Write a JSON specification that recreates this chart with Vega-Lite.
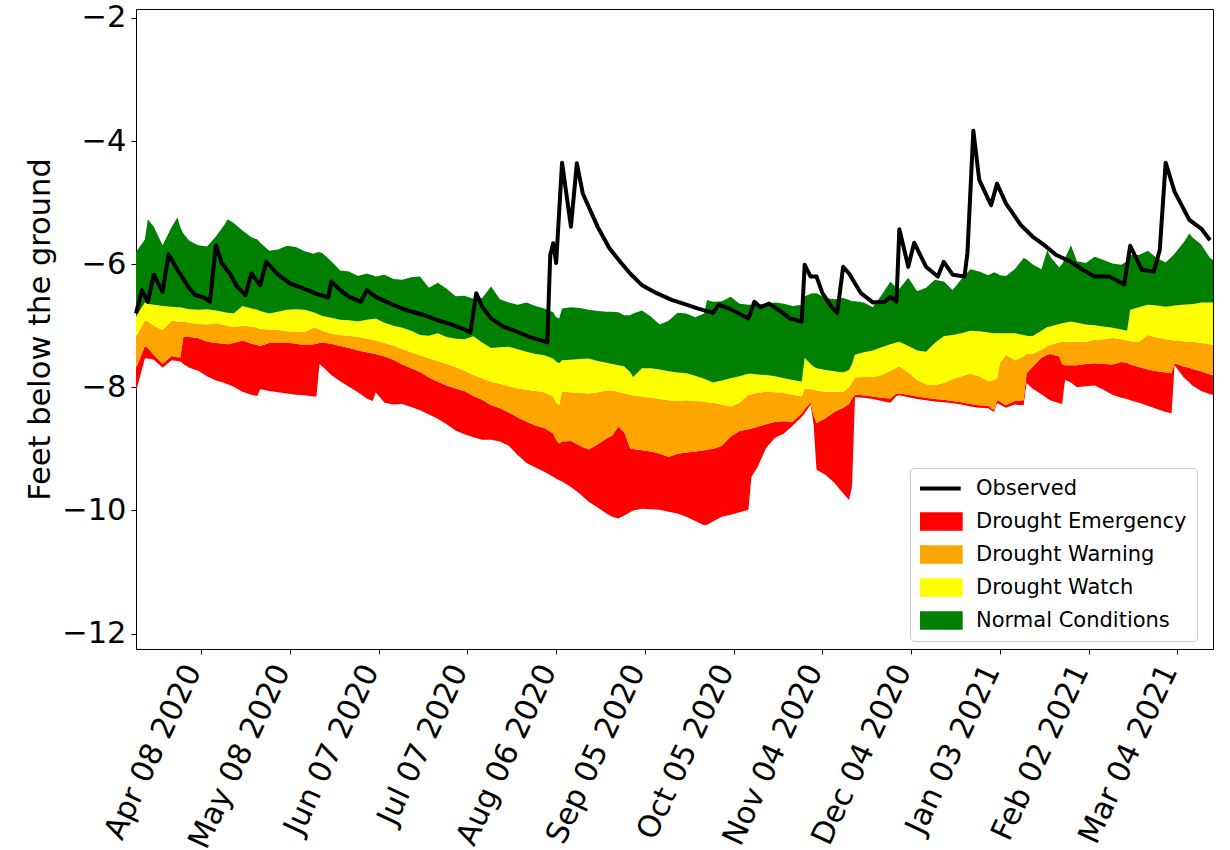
{
  "$schema": "https://vega.github.io/schema/vega-lite/v6.json",
  "autosize": "none",
  "width": 1077,
  "height": 640,
  "padding": {"left": 136, "top": 9, "right": 17, "bottom": 201},
  "background": "white",
  "datasets": {
    "bands": [
      {"date":"2020-03-17","emerg_lo":-8.07,"emerg_hi":-7.69,"warn_hi":-7.18,"watch_hi":-6.85,"normal_hi":-5.80},
      {"date":"2020-03-20","emerg_lo":-7.53,"emerg_hi":-7.33,"warn_hi":-6.91,"watch_hi":-6.62,"normal_hi":-5.60},
      {"date":"2020-03-21","emerg_lo":-7.53,"emerg_hi":-7.36,"warn_hi":-6.93,"watch_hi":-6.64,"normal_hi":-5.27},
      {"date":"2020-03-23","emerg_lo":-7.55,"emerg_hi":-7.47,"warn_hi":-7.00,"watch_hi":-6.66,"normal_hi":-5.39},
      {"date":"2020-03-26","emerg_lo":-7.68,"emerg_hi":-7.62,"warn_hi":-7.07,"watch_hi":-6.68,"normal_hi":-5.69},
      {"date":"2020-03-29","emerg_lo":-7.56,"emerg_hi":-7.49,"warn_hi":-6.92,"watch_hi":-6.69,"normal_hi":-5.40},
      {"date":"2020-03-31","emerg_lo":-7.57,"emerg_hi":-7.51,"warn_hi":-6.93,"watch_hi":-6.70,"normal_hi":-5.24},
      {"date":"2020-04-01","emerg_lo":-7.58,"emerg_hi":-7.51,"warn_hi":-6.93,"watch_hi":-6.70,"normal_hi":-5.40},
      {"date":"2020-04-02","emerg_lo":-7.62,"emerg_hi":-7.18,"warn_hi":-6.93,"watch_hi":-6.71,"normal_hi":-5.50},
      {"date":"2020-04-04","emerg_lo":-7.68,"emerg_hi":-7.18,"warn_hi":-6.95,"watch_hi":-6.73,"normal_hi":-5.62},
      {"date":"2020-04-07","emerg_lo":-7.73,"emerg_hi":-7.20,"warn_hi":-6.97,"watch_hi":-6.74,"normal_hi":-5.69},
      {"date":"2020-04-10","emerg_lo":-7.82,"emerg_hi":-7.26,"warn_hi":-6.98,"watch_hi":-6.73,"normal_hi":-5.71},
      {"date":"2020-04-13","emerg_lo":-7.89,"emerg_hi":-7.28,"warn_hi":-6.96,"watch_hi":-6.75,"normal_hi":-5.55},
      {"date":"2020-04-16","emerg_lo":-7.93,"emerg_hi":-7.29,"warn_hi":-6.99,"watch_hi":-6.78,"normal_hi":-5.35},
      {"date":"2020-04-17","emerg_lo":-7.95,"emerg_hi":-7.30,"warn_hi":-7.00,"watch_hi":-6.79,"normal_hi":-5.27},
      {"date":"2020-04-19","emerg_lo":-7.99,"emerg_hi":-7.28,"warn_hi":-7.02,"watch_hi":-6.80,"normal_hi":-5.33},
      {"date":"2020-04-22","emerg_lo":-8.07,"emerg_hi":-7.24,"warn_hi":-7.00,"watch_hi":-6.68,"normal_hi":-5.45},
      {"date":"2020-04-25","emerg_lo":-8.12,"emerg_hi":-7.29,"warn_hi":-7.01,"watch_hi":-6.72,"normal_hi":-5.56},
      {"date":"2020-04-27","emerg_lo":-8.14,"emerg_hi":-7.31,"warn_hi":-7.03,"watch_hi":-6.74,"normal_hi":-5.60},
      {"date":"2020-04-28","emerg_lo":-8.03,"emerg_hi":-7.33,"warn_hi":-7.05,"watch_hi":-6.76,"normal_hi":-5.65},
      {"date":"2020-05-01","emerg_lo":-8.06,"emerg_hi":-7.28,"warn_hi":-7.06,"watch_hi":-6.80,"normal_hi":-5.78},
      {"date":"2020-05-04","emerg_lo":-8.08,"emerg_hi":-7.28,"warn_hi":-7.07,"watch_hi":-6.77,"normal_hi":-5.76},
      {"date":"2020-05-07","emerg_lo":-8.10,"emerg_hi":-7.27,"warn_hi":-7.09,"watch_hi":-6.74,"normal_hi":-5.70},
      {"date":"2020-05-10","emerg_lo":-8.12,"emerg_hi":-7.29,"warn_hi":-7.10,"watch_hi":-6.73,"normal_hi":-5.72},
      {"date":"2020-05-13","emerg_lo":-8.13,"emerg_hi":-7.31,"warn_hi":-7.10,"watch_hi":-6.74,"normal_hi":-5.79},
      {"date":"2020-05-16","emerg_lo":-8.15,"emerg_hi":-7.30,"warn_hi":-7.03,"watch_hi":-6.78,"normal_hi":-5.83},
      {"date":"2020-05-17","emerg_lo":-8.15,"emerg_hi":-7.29,"warn_hi":-7.04,"watch_hi":-6.80,"normal_hi":-5.81},
      {"date":"2020-05-18","emerg_lo":-7.62,"emerg_hi":-7.28,"warn_hi":-7.06,"watch_hi":-6.82,"normal_hi":-5.80},
      {"date":"2020-05-19","emerg_lo":-7.66,"emerg_hi":-7.27,"warn_hi":-7.08,"watch_hi":-6.84,"normal_hi":-5.82},
      {"date":"2020-05-22","emerg_lo":-7.80,"emerg_hi":-7.29,"warn_hi":-7.13,"watch_hi":-6.87,"normal_hi":-5.95},
      {"date":"2020-05-25","emerg_lo":-7.90,"emerg_hi":-7.33,"warn_hi":-7.15,"watch_hi":-6.90,"normal_hi":-6.10},
      {"date":"2020-05-28","emerg_lo":-7.99,"emerg_hi":-7.36,"warn_hi":-7.16,"watch_hi":-6.91,"normal_hi":-6.12},
      {"date":"2020-05-31","emerg_lo":-8.08,"emerg_hi":-7.40,"warn_hi":-7.18,"watch_hi":-6.93,"normal_hi":-6.19},
      {"date":"2020-06-03","emerg_lo":-8.18,"emerg_hi":-7.43,"warn_hi":-7.21,"watch_hi":-6.90,"normal_hi":-6.15},
      {"date":"2020-06-05","emerg_lo":-8.22,"emerg_hi":-7.45,"warn_hi":-7.23,"watch_hi":-6.89,"normal_hi":-6.18},
      {"date":"2020-06-06","emerg_lo":-8.08,"emerg_hi":-7.46,"warn_hi":-7.24,"watch_hi":-6.88,"normal_hi":-6.20},
      {"date":"2020-06-09","emerg_lo":-8.25,"emerg_hi":-7.50,"warn_hi":-7.28,"watch_hi":-6.95,"normal_hi":-6.17},
      {"date":"2020-06-12","emerg_lo":-8.28,"emerg_hi":-7.55,"warn_hi":-7.32,"watch_hi":-7.00,"normal_hi":-6.24},
      {"date":"2020-06-15","emerg_lo":-8.27,"emerg_hi":-7.63,"warn_hi":-7.38,"watch_hi":-7.03,"normal_hi":-6.25},
      {"date":"2020-06-18","emerg_lo":-8.32,"emerg_hi":-7.69,"warn_hi":-7.43,"watch_hi":-7.08,"normal_hi":-6.21},
      {"date":"2020-06-21","emerg_lo":-8.37,"emerg_hi":-7.75,"warn_hi":-7.48,"watch_hi":-7.15,"normal_hi":-6.20},
      {"date":"2020-06-24","emerg_lo":-8.44,"emerg_hi":-7.84,"warn_hi":-7.53,"watch_hi":-7.16,"normal_hi":-6.38},
      {"date":"2020-06-27","emerg_lo":-8.51,"emerg_hi":-7.91,"warn_hi":-7.57,"watch_hi":-7.12,"normal_hi":-6.30},
      {"date":"2020-06-30","emerg_lo":-8.60,"emerg_hi":-7.97,"warn_hi":-7.62,"watch_hi":-7.18,"normal_hi":-6.40},
      {"date":"2020-07-03","emerg_lo":-8.70,"emerg_hi":-8.02,"warn_hi":-7.67,"watch_hi":-7.21,"normal_hi":-6.52},
      {"date":"2020-07-06","emerg_lo":-8.76,"emerg_hi":-8.06,"warn_hi":-7.73,"watch_hi":-7.22,"normal_hi":-6.51},
      {"date":"2020-07-09","emerg_lo":-8.81,"emerg_hi":-8.14,"warn_hi":-7.80,"watch_hi":-7.17,"normal_hi":-6.56},
      {"date":"2020-07-12","emerg_lo":-8.85,"emerg_hi":-8.20,"warn_hi":-7.85,"watch_hi":-7.27,"normal_hi":-6.55},
      {"date":"2020-07-15","emerg_lo":-8.85,"emerg_hi":-8.29,"warn_hi":-7.91,"watch_hi":-7.36,"normal_hi":-6.36},
      {"date":"2020-07-18","emerg_lo":-8.88,"emerg_hi":-8.34,"warn_hi":-7.94,"watch_hi":-7.35,"normal_hi":-6.57},
      {"date":"2020-07-21","emerg_lo":-8.95,"emerg_hi":-8.41,"warn_hi":-7.98,"watch_hi":-7.34,"normal_hi":-6.62},
      {"date":"2020-07-24","emerg_lo":-9.10,"emerg_hi":-8.49,"warn_hi":-8.02,"watch_hi":-7.38,"normal_hi":-6.66},
      {"date":"2020-07-27","emerg_lo":-9.23,"emerg_hi":-8.56,"warn_hi":-8.04,"watch_hi":-7.42,"normal_hi":-6.62},
      {"date":"2020-07-30","emerg_lo":-9.30,"emerg_hi":-8.62,"warn_hi":-8.06,"watch_hi":-7.46,"normal_hi":-6.68},
      {"date":"2020-08-02","emerg_lo":-9.37,"emerg_hi":-8.66,"warn_hi":-8.08,"watch_hi":-7.48,"normal_hi":-6.72},
      {"date":"2020-08-05","emerg_lo":-9.45,"emerg_hi":-8.75,"warn_hi":-8.15,"watch_hi":-7.53,"normal_hi":-6.78},
      {"date":"2020-08-06","emerg_lo":-9.48,"emerg_hi":-8.85,"warn_hi":-8.25,"watch_hi":-7.58,"normal_hi":-6.86},
      {"date":"2020-08-07","emerg_lo":-9.51,"emerg_hi":-8.91,"warn_hi":-8.29,"watch_hi":-7.61,"normal_hi":-6.88},
      {"date":"2020-08-08","emerg_lo":-9.53,"emerg_hi":-8.88,"warn_hi":-8.07,"watch_hi":-7.56,"normal_hi":-6.72},
      {"date":"2020-08-11","emerg_lo":-9.62,"emerg_hi":-8.87,"warn_hi":-8.08,"watch_hi":-7.55,"normal_hi":-6.70},
      {"date":"2020-08-14","emerg_lo":-9.73,"emerg_hi":-8.95,"warn_hi":-8.09,"watch_hi":-7.54,"normal_hi":-6.71},
      {"date":"2020-08-17","emerg_lo":-9.86,"emerg_hi":-9.01,"warn_hi":-8.10,"watch_hi":-7.53,"normal_hi":-6.74},
      {"date":"2020-08-20","emerg_lo":-9.95,"emerg_hi":-8.93,"warn_hi":-8.08,"watch_hi":-7.57,"normal_hi":-6.76},
      {"date":"2020-08-23","emerg_lo":-10.05,"emerg_hi":-8.83,"warn_hi":-8.05,"watch_hi":-7.60,"normal_hi":-6.77},
      {"date":"2020-08-25","emerg_lo":-10.10,"emerg_hi":-8.78,"warn_hi":-8.05,"watch_hi":-7.62,"normal_hi":-6.77},
      {"date":"2020-08-27","emerg_lo":-10.13,"emerg_hi":-8.64,"warn_hi":-8.07,"watch_hi":-7.64,"normal_hi":-6.78},
      {"date":"2020-08-29","emerg_lo":-10.08,"emerg_hi":-8.73,"warn_hi":-8.10,"watch_hi":-7.66,"normal_hi":-6.83},
      {"date":"2020-08-31","emerg_lo":-10.03,"emerg_hi":-8.99,"warn_hi":-8.12,"watch_hi":-7.75,"normal_hi":-6.83},
      {"date":"2020-09-01","emerg_lo":-10.00,"emerg_hi":-9.00,"warn_hi":-8.13,"watch_hi":-7.83,"normal_hi":-6.80},
      {"date":"2020-09-04","emerg_lo":-9.97,"emerg_hi":-9.02,"warn_hi":-8.15,"watch_hi":-7.69,"normal_hi":-6.75},
      {"date":"2020-09-07","emerg_lo":-9.98,"emerg_hi":-9.04,"warn_hi":-8.17,"watch_hi":-7.69,"normal_hi":-6.85},
      {"date":"2020-09-10","emerg_lo":-9.99,"emerg_hi":-9.08,"warn_hi":-8.19,"watch_hi":-7.71,"normal_hi":-6.98},
      {"date":"2020-09-13","emerg_lo":-10.02,"emerg_hi":-9.13,"warn_hi":-8.21,"watch_hi":-7.74,"normal_hi":-6.92},
      {"date":"2020-09-16","emerg_lo":-10.05,"emerg_hi":-9.08,"warn_hi":-8.22,"watch_hi":-7.76,"normal_hi":-6.79},
      {"date":"2020-09-19","emerg_lo":-10.10,"emerg_hi":-9.06,"warn_hi":-8.21,"watch_hi":-7.77,"normal_hi":-6.80},
      {"date":"2020-09-22","emerg_lo":-10.17,"emerg_hi":-9.04,"warn_hi":-8.22,"watch_hi":-7.81,"normal_hi":-6.86},
      {"date":"2020-09-25","emerg_lo":-10.24,"emerg_hi":-9.02,"warn_hi":-8.23,"watch_hi":-7.86,"normal_hi":-6.80},
      {"date":"2020-09-26","emerg_lo":-10.23,"emerg_hi":-9.01,"warn_hi":-8.24,"watch_hi":-7.88,"normal_hi":-6.58},
      {"date":"2020-09-28","emerg_lo":-10.18,"emerg_hi":-9.00,"warn_hi":-8.25,"watch_hi":-7.92,"normal_hi":-6.61},
      {"date":"2020-10-01","emerg_lo":-10.10,"emerg_hi":-8.95,"warn_hi":-8.28,"watch_hi":-7.89,"normal_hi":-6.60},
      {"date":"2020-10-04","emerg_lo":-10.07,"emerg_hi":-8.80,"warn_hi":-8.31,"watch_hi":-7.85,"normal_hi":-6.53},
      {"date":"2020-10-07","emerg_lo":-10.03,"emerg_hi":-8.71,"warn_hi":-8.25,"watch_hi":-7.82,"normal_hi":-6.64},
      {"date":"2020-10-10","emerg_lo":-9.99,"emerg_hi":-8.68,"warn_hi":-8.12,"watch_hi":-7.78,"normal_hi":-6.66},
      {"date":"2020-10-11","emerg_lo":-9.45,"emerg_hi":-8.67,"warn_hi":-8.11,"watch_hi":-7.78,"normal_hi":-6.66},
      {"date":"2020-10-13","emerg_lo":-9.30,"emerg_hi":-8.64,"warn_hi":-8.09,"watch_hi":-7.79,"normal_hi":-6.65},
      {"date":"2020-10-16","emerg_lo":-8.98,"emerg_hi":-8.60,"warn_hi":-8.07,"watch_hi":-7.80,"normal_hi":-6.64},
      {"date":"2020-10-19","emerg_lo":-8.82,"emerg_hi":-8.56,"warn_hi":-8.08,"watch_hi":-7.82,"normal_hi":-6.62},
      {"date":"2020-10-22","emerg_lo":-8.75,"emerg_hi":-8.55,"warn_hi":-8.09,"watch_hi":-7.85,"normal_hi":-6.64},
      {"date":"2020-10-25","emerg_lo":-8.62,"emerg_hi":-8.56,"warn_hi":-8.12,"watch_hi":-7.88,"normal_hi":-6.68},
      {"date":"2020-10-28","emerg_lo":-8.48,"emerg_hi":-8.42,"warn_hi":-8.15,"watch_hi":-7.91,"normal_hi":-6.66},
      {"date":"2020-10-29","emerg_lo":-8.42,"emerg_hi":-8.35,"warn_hi":-8.02,"watch_hi":-7.52,"normal_hi":-6.52},
      {"date":"2020-10-31","emerg_lo":-8.28,"emerg_hi":-8.25,"warn_hi":-8.03,"watch_hi":-7.62,"normal_hi":-6.48},
      {"date":"2020-11-01","emerg_lo":-8.60,"emerg_hi":-8.45,"warn_hi":-8.04,"watch_hi":-7.66,"normal_hi":-6.47},
      {"date":"2020-11-02","emerg_lo":-9.34,"emerg_hi":-8.58,"warn_hi":-8.05,"watch_hi":-7.69,"normal_hi":-6.47},
      {"date":"2020-11-05","emerg_lo":-9.42,"emerg_hi":-8.50,"warn_hi":-8.07,"watch_hi":-7.72,"normal_hi":-6.55},
      {"date":"2020-11-08","emerg_lo":-9.55,"emerg_hi":-8.40,"warn_hi":-8.07,"watch_hi":-7.74,"normal_hi":-6.57},
      {"date":"2020-11-11","emerg_lo":-9.72,"emerg_hi":-8.33,"warn_hi":-8.07,"watch_hi":-7.76,"normal_hi":-6.55},
      {"date":"2020-11-13","emerg_lo":-9.83,"emerg_hi":-8.27,"warn_hi":-8.00,"watch_hi":-7.72,"normal_hi":-6.58},
      {"date":"2020-11-14","emerg_lo":-9.61,"emerg_hi":-8.18,"warn_hi":-7.92,"watch_hi":-7.62,"normal_hi":-6.60},
      {"date":"2020-11-15","emerg_lo":-8.16,"emerg_hi":-8.12,"warn_hi":-7.84,"watch_hi":-7.47,"normal_hi":-6.60},
      {"date":"2020-11-18","emerg_lo":-8.17,"emerg_hi":-8.13,"warn_hi":-7.83,"watch_hi":-7.43,"normal_hi":-6.62},
      {"date":"2020-11-21","emerg_lo":-8.19,"emerg_hi":-8.15,"warn_hi":-7.83,"watch_hi":-7.40,"normal_hi":-6.70},
      {"date":"2020-11-24","emerg_lo":-8.22,"emerg_hi":-8.17,"warn_hi":-7.80,"watch_hi":-7.35,"normal_hi":-6.50},
      {"date":"2020-11-27","emerg_lo":-8.25,"emerg_hi":-8.18,"warn_hi":-7.73,"watch_hi":-7.30,"normal_hi":-6.28},
      {"date":"2020-11-29","emerg_lo":-8.14,"emerg_hi":-8.10,"warn_hi":-7.68,"watch_hi":-7.27,"normal_hi":-6.38},
      {"date":"2020-11-30","emerg_lo":-8.13,"emerg_hi":-8.10,"warn_hi":-7.66,"watch_hi":-7.26,"normal_hi":-6.40},
      {"date":"2020-12-03","emerg_lo":-8.16,"emerg_hi":-8.12,"warn_hi":-7.76,"watch_hi":-7.33,"normal_hi":-6.22},
      {"date":"2020-12-06","emerg_lo":-8.19,"emerg_hi":-8.15,"warn_hi":-7.88,"watch_hi":-7.40,"normal_hi":-6.44},
      {"date":"2020-12-09","emerg_lo":-8.21,"emerg_hi":-8.17,"warn_hi":-7.95,"watch_hi":-7.42,"normal_hi":-6.38},
      {"date":"2020-12-12","emerg_lo":-8.23,"emerg_hi":-8.19,"warn_hi":-7.96,"watch_hi":-7.28,"normal_hi":-6.25},
      {"date":"2020-12-15","emerg_lo":-8.24,"emerg_hi":-8.20,"warn_hi":-7.93,"watch_hi":-7.17,"normal_hi":-6.28},
      {"date":"2020-12-18","emerg_lo":-8.26,"emerg_hi":-8.22,"warn_hi":-7.87,"watch_hi":-7.15,"normal_hi":-6.42},
      {"date":"2020-12-21","emerg_lo":-8.28,"emerg_hi":-8.24,"warn_hi":-7.82,"watch_hi":-7.12,"normal_hi":-6.24},
      {"date":"2020-12-24","emerg_lo":-8.31,"emerg_hi":-8.27,"warn_hi":-7.78,"watch_hi":-7.08,"normal_hi":-6.08},
      {"date":"2020-12-27","emerg_lo":-8.33,"emerg_hi":-8.29,"warn_hi":-7.82,"watch_hi":-7.09,"normal_hi":-6.12},
      {"date":"2020-12-30","emerg_lo":-8.34,"emerg_hi":-8.30,"warn_hi":-7.90,"watch_hi":-7.11,"normal_hi":-6.18},
      {"date":"2021-01-01","emerg_lo":-8.40,"emerg_hi":-8.37,"warn_hi":-7.88,"watch_hi":-7.12,"normal_hi":-6.13},
      {"date":"2021-01-02","emerg_lo":-8.26,"emerg_hi":-8.21,"warn_hi":-7.85,"watch_hi":-7.12,"normal_hi":-6.15},
      {"date":"2021-01-03","emerg_lo":-8.28,"emerg_hi":-8.23,"warn_hi":-7.60,"watch_hi":-7.12,"normal_hi":-6.18},
      {"date":"2021-01-05","emerg_lo":-8.33,"emerg_hi":-8.29,"warn_hi":-7.47,"watch_hi":-7.12,"normal_hi":-6.19},
      {"date":"2021-01-08","emerg_lo":-8.28,"emerg_hi":-8.22,"warn_hi":-7.56,"watch_hi":-7.12,"normal_hi":-6.08},
      {"date":"2021-01-11","emerg_lo":-8.29,"emerg_hi":-8.21,"warn_hi":-7.50,"watch_hi":-7.15,"normal_hi":-5.90},
      {"date":"2021-01-12","emerg_lo":-7.93,"emerg_hi":-7.77,"warn_hi":-7.45,"watch_hi":-7.16,"normal_hi":-5.92},
      {"date":"2021-01-14","emerg_lo":-8.02,"emerg_hi":-7.67,"warn_hi":-7.46,"watch_hi":-7.17,"normal_hi":-6.00},
      {"date":"2021-01-17","emerg_lo":-8.11,"emerg_hi":-7.52,"warn_hi":-7.39,"watch_hi":-7.08,"normal_hi":-6.08},
      {"date":"2021-01-19","emerg_lo":-8.18,"emerg_hi":-7.47,"warn_hi":-7.33,"watch_hi":-7.02,"normal_hi":-5.77},
      {"date":"2021-01-20","emerg_lo":-8.21,"emerg_hi":-7.46,"warn_hi":-7.31,"watch_hi":-7.01,"normal_hi":-5.88},
      {"date":"2021-01-23","emerg_lo":-8.26,"emerg_hi":-7.50,"warn_hi":-7.27,"watch_hi":-6.97,"normal_hi":-6.05},
      {"date":"2021-01-24","emerg_lo":-8.27,"emerg_hi":-7.62,"warn_hi":-7.26,"watch_hi":-6.96,"normal_hi":-6.00},
      {"date":"2021-01-25","emerg_lo":-7.88,"emerg_hi":-7.64,"warn_hi":-7.26,"watch_hi":-6.95,"normal_hi":-5.90},
      {"date":"2021-01-27","emerg_lo":-7.92,"emerg_hi":-7.64,"warn_hi":-7.26,"watch_hi":-6.93,"normal_hi":-5.69},
      {"date":"2021-01-29","emerg_lo":-8.00,"emerg_hi":-7.64,"warn_hi":-7.26,"watch_hi":-6.95,"normal_hi":-5.95},
      {"date":"2021-02-01","emerg_lo":-7.98,"emerg_hi":-7.62,"warn_hi":-7.26,"watch_hi":-6.98,"normal_hi":-5.98},
      {"date":"2021-02-04","emerg_lo":-7.97,"emerg_hi":-7.61,"warn_hi":-7.23,"watch_hi":-6.99,"normal_hi":-5.88},
      {"date":"2021-02-07","emerg_lo":-8.04,"emerg_hi":-7.62,"warn_hi":-7.22,"watch_hi":-7.01,"normal_hi":-5.93},
      {"date":"2021-02-10","emerg_lo":-8.12,"emerg_hi":-7.63,"warn_hi":-7.20,"watch_hi":-7.03,"normal_hi":-5.99},
      {"date":"2021-02-13","emerg_lo":-8.17,"emerg_hi":-7.59,"warn_hi":-7.22,"watch_hi":-7.06,"normal_hi":-6.01},
      {"date":"2021-02-15","emerg_lo":-8.19,"emerg_hi":-7.60,"warn_hi":-7.24,"watch_hi":-7.08,"normal_hi":-5.95},
      {"date":"2021-02-16","emerg_lo":-8.21,"emerg_hi":-7.63,"warn_hi":-7.25,"watch_hi":-6.74,"normal_hi":-5.85},
      {"date":"2021-02-19","emerg_lo":-8.25,"emerg_hi":-7.67,"warn_hi":-7.26,"watch_hi":-6.70,"normal_hi":-5.85},
      {"date":"2021-02-22","emerg_lo":-8.30,"emerg_hi":-7.71,"warn_hi":-7.15,"watch_hi":-6.66,"normal_hi":-5.78},
      {"date":"2021-02-25","emerg_lo":-8.35,"emerg_hi":-7.74,"warn_hi":-7.19,"watch_hi":-6.67,"normal_hi":-5.90},
      {"date":"2021-02-28","emerg_lo":-8.40,"emerg_hi":-7.76,"warn_hi":-7.22,"watch_hi":-6.69,"normal_hi":-5.97},
      {"date":"2021-03-02","emerg_lo":-8.42,"emerg_hi":-7.77,"warn_hi":-7.23,"watch_hi":-6.68,"normal_hi":-5.88},
      {"date":"2021-03-03","emerg_lo":-7.64,"emerg_hi":-7.61,"warn_hi":-7.24,"watch_hi":-6.67,"normal_hi":-5.83},
      {"date":"2021-03-06","emerg_lo":-7.83,"emerg_hi":-7.66,"warn_hi":-7.25,"watch_hi":-6.66,"normal_hi":-5.65},
      {"date":"2021-03-08","emerg_lo":-7.92,"emerg_hi":-7.68,"warn_hi":-7.26,"watch_hi":-6.65,"normal_hi":-5.50},
      {"date":"2021-03-09","emerg_lo":-7.97,"emerg_hi":-7.70,"warn_hi":-7.26,"watch_hi":-6.65,"normal_hi":-5.56},
      {"date":"2021-03-12","emerg_lo":-8.06,"emerg_hi":-7.74,"warn_hi":-7.28,"watch_hi":-6.62,"normal_hi":-5.68},
      {"date":"2021-03-15","emerg_lo":-8.11,"emerg_hi":-7.79,"warn_hi":-7.30,"watch_hi":-6.62,"normal_hi":-5.90},
      {"date":"2021-03-16","emerg_lo":-8.12,"emerg_hi":-7.80,"warn_hi":-7.31,"watch_hi":-6.62,"normal_hi":-5.93}
    ],
    "observed": [
      {"date":"2020-03-17","level":-6.80},{"date":"2020-03-19","level":-6.42},{"date":"2020-03-21","level":-6.61},
      {"date":"2020-03-23","level":-6.17},{"date":"2020-03-26","level":-6.45},{"date":"2020-03-28","level":-5.84},
      {"date":"2020-03-31","level":-6.09},{"date":"2020-04-04","level":-6.39},{"date":"2020-04-06","level":-6.50},
      {"date":"2020-04-09","level":-6.54},{"date":"2020-04-11","level":-6.61},{"date":"2020-04-13","level":-5.69},
      {"date":"2020-04-15","level":-5.98},{"date":"2020-04-18","level":-6.17},{"date":"2020-04-20","level":-6.35},
      {"date":"2020-04-23","level":-6.50},{"date":"2020-04-25","level":-6.15},{"date":"2020-04-28","level":-6.34},
      {"date":"2020-04-30","level":-5.96},{"date":"2020-05-04","level":-6.17},{"date":"2020-05-08","level":-6.31},
      {"date":"2020-05-14","level":-6.42},{"date":"2020-05-17","level":-6.48},{"date":"2020-05-21","level":-6.54},
      {"date":"2020-05-22","level":-6.28},{"date":"2020-05-25","level":-6.42},{"date":"2020-05-28","level":-6.53},
      {"date":"2020-06-01","level":-6.61},{"date":"2020-06-03","level":-6.42},{"date":"2020-06-06","level":-6.53},
      {"date":"2020-06-11","level":-6.64},{"date":"2020-06-16","level":-6.74},{"date":"2020-06-22","level":-6.82},
      {"date":"2020-06-27","level":-6.91},{"date":"2020-07-01","level":-6.97},{"date":"2020-07-06","level":-7.06},
      {"date":"2020-07-08","level":-7.11},{"date":"2020-07-10","level":-6.47},{"date":"2020-07-12","level":-6.69},
      {"date":"2020-07-15","level":-6.88},{"date":"2020-07-19","level":-7.01},{"date":"2020-07-23","level":-7.08},
      {"date":"2020-07-28","level":-7.18},{"date":"2020-08-03","level":-7.27},{"date":"2020-08-04","level":-5.85},
      {"date":"2020-08-05","level":-5.66},{"date":"2020-08-06","level":-5.98},{"date":"2020-08-08","level":-4.35},
      {"date":"2020-08-11","level":-5.39},{"date":"2020-08-13","level":-4.36},{"date":"2020-08-15","level":-4.85},
      {"date":"2020-08-20","level":-5.39},{"date":"2020-08-24","level":-5.74},{"date":"2020-08-28","level":-5.98},
      {"date":"2020-08-31","level":-6.15},{"date":"2020-09-04","level":-6.34},{"date":"2020-09-09","level":-6.47},
      {"date":"2020-09-14","level":-6.58},{"date":"2020-09-18","level":-6.64},{"date":"2020-09-23","level":-6.72},
      {"date":"2020-09-28","level":-6.79},{"date":"2020-09-30","level":-6.66},{"date":"2020-10-04","level":-6.73},
      {"date":"2020-10-10","level":-6.88},{"date":"2020-10-12","level":-6.61},{"date":"2020-10-14","level":-6.70},
      {"date":"2020-10-17","level":-6.64},{"date":"2020-10-21","level":-6.77},{"date":"2020-10-24","level":-6.88},
      {"date":"2020-10-28","level":-6.93},{"date":"2020-10-29","level":-6.01},{"date":"2020-10-31","level":-6.20},
      {"date":"2020-11-02","level":-6.20},{"date":"2020-11-04","level":-6.47},{"date":"2020-11-07","level":-6.69},
      {"date":"2020-11-09","level":-6.79},{"date":"2020-11-11","level":-6.04},{"date":"2020-11-13","level":-6.15},
      {"date":"2020-11-17","level":-6.47},{"date":"2020-11-21","level":-6.62},{"date":"2020-11-25","level":-6.61},
      {"date":"2020-11-27","level":-6.53},{"date":"2020-11-29","level":-6.61},{"date":"2020-11-30","level":-5.43},
      {"date":"2020-12-03","level":-6.04},{"date":"2020-12-05","level":-5.65},{"date":"2020-12-09","level":-6.04},
      {"date":"2020-12-13","level":-6.20},{"date":"2020-12-15","level":-5.96},{"date":"2020-12-18","level":-6.17},
      {"date":"2020-12-22","level":-6.20},{"date":"2020-12-23","level":-5.82},{"date":"2020-12-25","level":-3.83},
      {"date":"2020-12-27","level":-4.63},{"date":"2020-12-31","level":-5.04},{"date":"2021-01-02","level":-4.69},
      {"date":"2021-01-05","level":-5.01},{"date":"2021-01-10","level":-5.36},{"date":"2021-01-14","level":-5.55},
      {"date":"2021-01-18","level":-5.69},{"date":"2021-01-22","level":-5.85},{"date":"2021-01-27","level":-5.96},
      {"date":"2021-01-31","level":-6.09},{"date":"2021-02-04","level":-6.20},{"date":"2021-02-09","level":-6.20},
      {"date":"2021-02-14","level":-6.33},{"date":"2021-02-16","level":-5.70},{"date":"2021-02-20","level":-6.09},
      {"date":"2021-02-24","level":-6.12},{"date":"2021-02-26","level":-5.77},{"date":"2021-02-28","level":-4.35},
      {"date":"2021-03-03","level":-4.82},{"date":"2021-03-08","level":-5.28},{"date":"2021-03-12","level":-5.42},
      {"date":"2021-03-15","level":-5.61}
    ]
  },
  "encoding": {
    "x": {
      "field": "date",
      "type": "temporal",
      "title": null,
      "scale": {
        "type": "utc",
        "domain": [
          {"year": 2020, "month": 3, "date": 17, "utc": true},
          {"year": 2021, "month": 3, "date": 16, "utc": true}
        ]
      },
      "axis": {
        "values": [
          {"year": 2020, "month": 4, "date": 8, "utc": true},
          {"year": 2020, "month": 5, "date": 8, "utc": true},
          {"year": 2020, "month": 6, "date": 7, "utc": true},
          {"year": 2020, "month": 7, "date": 7, "utc": true},
          {"year": 2020, "month": 8, "date": 6, "utc": true},
          {"year": 2020, "month": 9, "date": 5, "utc": true},
          {"year": 2020, "month": 10, "date": 5, "utc": true},
          {"year": 2020, "month": 11, "date": 4, "utc": true},
          {"year": 2020, "month": 12, "date": 4, "utc": true},
          {"year": 2021, "month": 1, "date": 3, "utc": true},
          {"year": 2021, "month": 2, "date": 2, "utc": true},
          {"year": 2021, "month": 3, "date": 4, "utc": true}
        ],
        "format": "%b %d %Y",
        "labelAngle": -65,
        "labelAlign": "right",
        "labelBaseline": "alphabetic",
        "labelPadding": 16,
        "labelDx": -3,
        "labelDy": -6,
        "labelLimit": 1000,
        "labelFlush": false,
        "labelOverlap": false,
        "labelBound": false
      }
    }
  },
  "layer": [
    {
      "data": {"name": "bands"},
      "mark": {"type": "area", "interpolate": "linear"},
      "encoding": {
        "y": {"field": "emerg_lo", "type": "quantitative", "title": "Feet below the ground",
              "scale": {"domain": [-12.25, -1.854], "nice": false, "zero": false},
              "axis": {"values": [-12, -10, -8, -6, -4, -2], "format": "d"}},
        "y2": {"field": "emerg_hi"},
        "color": {
          "datum": "Drought Emergency",
          "type": "nominal",
          "scale": {
            "domain": ["Observed", "Drought Emergency", "Drought Warning", "Drought Watch", "Normal Conditions"],
            "range": ["#000000", "#ff0000", "#ffa500", "#ffff00", "#008000"]
          },
          "legend": {
            "orient": "none",
            "legendX": 774,
            "legendY": 459,
            "title": null,
            "direction": "vertical",
            "labelFont": "DejaVu Sans",
            "labelFontSize": 21,
            "labelColor": "#000000",
            "labelLimit": 1000,
            "padding": 10,
            "rowPadding": 11,
            "clipHeight": 21,
            "symbolSize": 256,
            "symbolStrokeWidth": 4,
            "symbolOffset": 9,
            "labelOffset": 26,
            "strokeColor": "#cccccc",
            "fillColor": "rgba(255,255,255,0.8)",
            "cornerRadius": 4,
            "encode": {
              "symbols": {
                "update": {
                  "shape": {"signal": "datum.value === 'Observed' ? 'M-2.65,0H2.65' : 'M-2.65,-0.92H2.65V0.92H-2.65Z'"},
                  "fill": {"signal": "datum.value === 'Observed' ? 'transparent' : scale('color', datum.value)"},
                  "stroke": {"signal": "datum.value === 'Observed' ? '#000000' : 'transparent'"},
                  "strokeWidth": {"value": 4},
                  "opacity": {"value": 1},
                  "fillOpacity": {"value": 1},
                  "strokeOpacity": {"value": 1}
                }
              }
            }
          }
        }
      }
    },
    {
      "data": {"name": "bands"},
      "mark": {"type": "area", "interpolate": "linear"},
      "encoding": {
        "y": {"field": "emerg_hi", "type": "quantitative", "title": "Feet below the ground"},
        "y2": {"field": "warn_hi"},
        "color": {"datum": "Drought Warning", "type": "nominal"}
      }
    },
    {
      "data": {"name": "bands"},
      "mark": {"type": "area", "interpolate": "linear"},
      "encoding": {
        "y": {"field": "warn_hi", "type": "quantitative", "title": "Feet below the ground"},
        "y2": {"field": "watch_hi"},
        "color": {"datum": "Drought Watch", "type": "nominal"}
      }
    },
    {
      "data": {"name": "bands"},
      "mark": {"type": "area", "interpolate": "linear"},
      "encoding": {
        "y": {"field": "watch_hi", "type": "quantitative", "title": "Feet below the ground"},
        "y2": {"field": "normal_hi"},
        "color": {"datum": "Normal Conditions", "type": "nominal"}
      }
    },
    {
      "data": {"name": "observed"},
      "mark": {"type": "line", "strokeWidth": 4, "strokeJoin": "round", "interpolate": "linear"},
      "encoding": {
        "y": {"field": "level", "type": "quantitative", "title": "Feet below the ground"},
        "color": {"datum": "Observed", "type": "nominal"}
      }
    }
  ],
  "config": {
    "font": "DejaVu Sans",
    "view": {"stroke": "#000000", "strokeWidth": 1},
    "axis": {
      "grid": false,
      "domain": false,
      "ticks": true,
      "tickColor": "#000000",
      "tickSize": 5,
      "tickWidth": 1,
      "labelColor": "#000000",
      "labelFont": "DejaVu Sans",
      "labelFontSize": 30.5,
      "titleFont": "DejaVu Sans",
      "titleFontSize": 30.5,
      "titleFontWeight": "normal",
      "titleColor": "#000000"
    },
    "axisY": {
      "labelPadding": 5,
      "titleX": -86.6,
      "titleBaseline": "alphabetic",
      "titleAngle": -90
    }
  }
}
